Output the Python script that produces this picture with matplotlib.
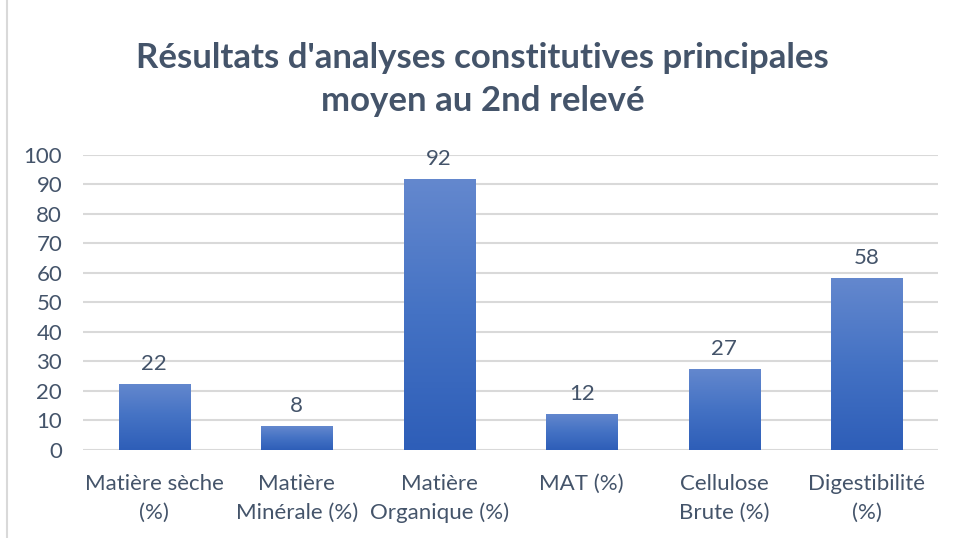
import numpy as np
import matplotlib.pyplot as plt
from matplotlib.colors import LinearSegmentedColormap
from matplotlib.patches import Rectangle

# Données
categories = ["Matière sèche\n(%)", "Matière\nMinérale (%)", "Matière\nOrganique (%)",
              "MAT (%)", "Cellulose\nBrute (%)", "Digestibilité\n(%)"]
values = [22.4, 8.1, 91.9, 12.2, 27.5, 58.3]
labels = ["22", "8", "92", "12", "27", "58"]
yticks = [0, 10, 20, 30, 40, 50, 60, 70, 80, 90, 100]

text_color = "#44546A"
plt.rcParams['font.family'] = ['Lato', 'DejaVu Sans']
fs = 16

fig = plt.figure(figsize=(9.65, 5.38), dpi=100)
ax = fig.add_axes([0.086, 0.1636, 0.886, 0.5485])

x = np.arange(len(categories))
bars = ax.bar(x, values, width=0.5, color="none", edgecolor="none", zorder=3)

# dégradé vertical dans chaque barre
cmap = LinearSegmentedColormap.from_list("grad", ["#2E5EB8", "#4472C4", "#6488CE"])
grad = np.linspace(0, 1, 256).reshape(-1, 1)
for b in bars:
    x0, w, h = b.get_x(), b.get_width(), b.get_height()
    im = ax.imshow(grad, cmap=cmap, aspect="auto", origin="lower",
                   extent=[x0, x0 + w, 0, h], zorder=3)
    im.set_clip_path(b)

for xi, v, lab in zip(x, values, labels):
    ax.text(xi, v + 3.3, lab, ha="center", va="bottom", fontsize=fs, color=text_color)

ax.set_xlim(-0.5, len(categories) - 0.5)
ax.set_ylim(0, 100)
ax.set_yticks(yticks)
ax.set_xticks(x)
ax.set_xticklabels(categories, fontsize=fs, color=text_color, linespacing=1.55)
ax.tick_params(axis="y", labelsize=fs, labelcolor=text_color, length=0, pad=15)
ax.tick_params(axis="x", length=0, pad=17)
ax.grid(axis="y", color="#D9D9D9", linewidth=1.5, zorder=0)
for s in ax.spines.values():
    s.set_visible(False)

fig.text(0.5, 0.852, "Résultats d'analyses constitutives principales\nmoyen au 2nd relevé",
         ha="center", va="center", fontsize=25, fontweight="bold", color=text_color,
         linespacing=1.4)

# bordure du graphique
fig.patches.append(Rectangle((0.007, -0.05), 1.2, 1.2, transform=fig.transFigure,
                             fill=False, edgecolor="#D9D9D9", linewidth=1.5))

fig.savefig("out.png", dpi=100)
